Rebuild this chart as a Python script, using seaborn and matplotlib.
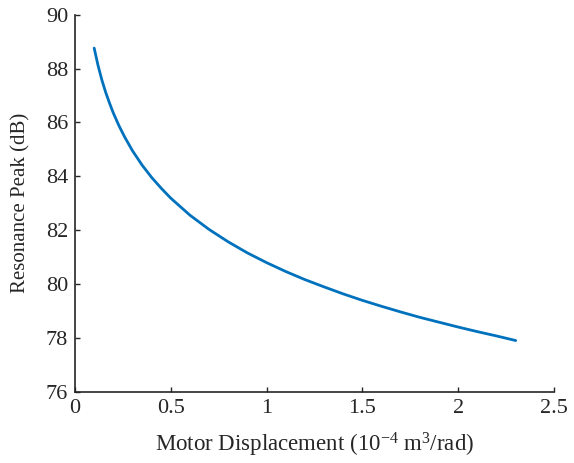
import matplotlib
matplotlib.use("Agg")
import matplotlib.pyplot as plt
import pandas as pd
import seaborn as sns

# values
displacement = [0.10, 0.12, 0.14, 0.16, 0.18, 0.20, 0.23, 0.26, 0.30, 0.35,
                0.40, 0.45, 0.50, 0.60, 0.70, 0.80, 0.90, 1.00, 1.10, 1.20,
                1.30, 1.40, 1.50, 1.60, 1.70, 1.80, 1.90, 2.00, 2.10, 2.20,
                2.30]
peak = [88.76, 88.12, 87.58, 87.12, 86.72, 86.35, 85.87, 85.45, 84.95, 84.42,
        83.96, 83.56, 83.19, 82.56, 82.03, 81.57, 81.16, 80.80, 80.47, 80.17,
        79.90, 79.64, 79.40, 79.18, 78.97, 78.77, 78.59, 78.41, 78.24, 78.08,
        77.91]

xticks = [0, 0.5, 1, 1.5, 2, 2.5]
xticklabels = ['0', '0.5', '1', '1.5', '2', '2.5']
yticks = [76, 78, 80, 82, 84, 86, 88, 90]

df = pd.DataFrame({'x': displacement, 'y': peak})

sns.set_style('ticks')
plt.rcParams['font.family'] = ['Liberation Serif', 'DejaVu Serif']
plt.rcParams['mathtext.fontset'] = 'custom'
plt.rcParams['mathtext.rm'] = 'Liberation Serif'
plt.rcParams['mathtext.it'] = 'Liberation Serif:italic'

fig = plt.figure(figsize=(5.74, 4.63), dpi=100)
ax = fig.add_axes([0.1307, 0.1533, 0.8345, 0.815])

sns.lineplot(data=df, x='x', y='y', ax=ax, color='#0072BD', linewidth=2.0)

ax.set_xlim(0, 2.5)
ax.set_ylim(76, 90)
ax.set_xticks(xticks)
ax.set_xticklabels(xticklabels)
ax.set_yticks(yticks)
ax.tick_params(direction='in', length=3.6, width=1.0, colors='#262626',
               labelsize=16, labelcolor='#262626')
ax.tick_params(axis='x', pad=5)
ax.tick_params(axis='y', pad=5)
for side in ['top', 'right']:
    ax.spines[side].set_visible(False)
for side in ['left', 'bottom']:
    ax.spines[side].set_color('#262626')
    ax.spines[side].set_linewidth(1.2)

ax.set_xlabel('Motor Displacement (10$^{-4}$ m$^3$/rad)', fontsize=16.5,
              color='#262626', labelpad=9)
ax.set_ylabel('Resonance Peak (dB)', fontsize=15, color='#262626',
              labelpad=11)

fig.savefig('out.png', dpi=100)
